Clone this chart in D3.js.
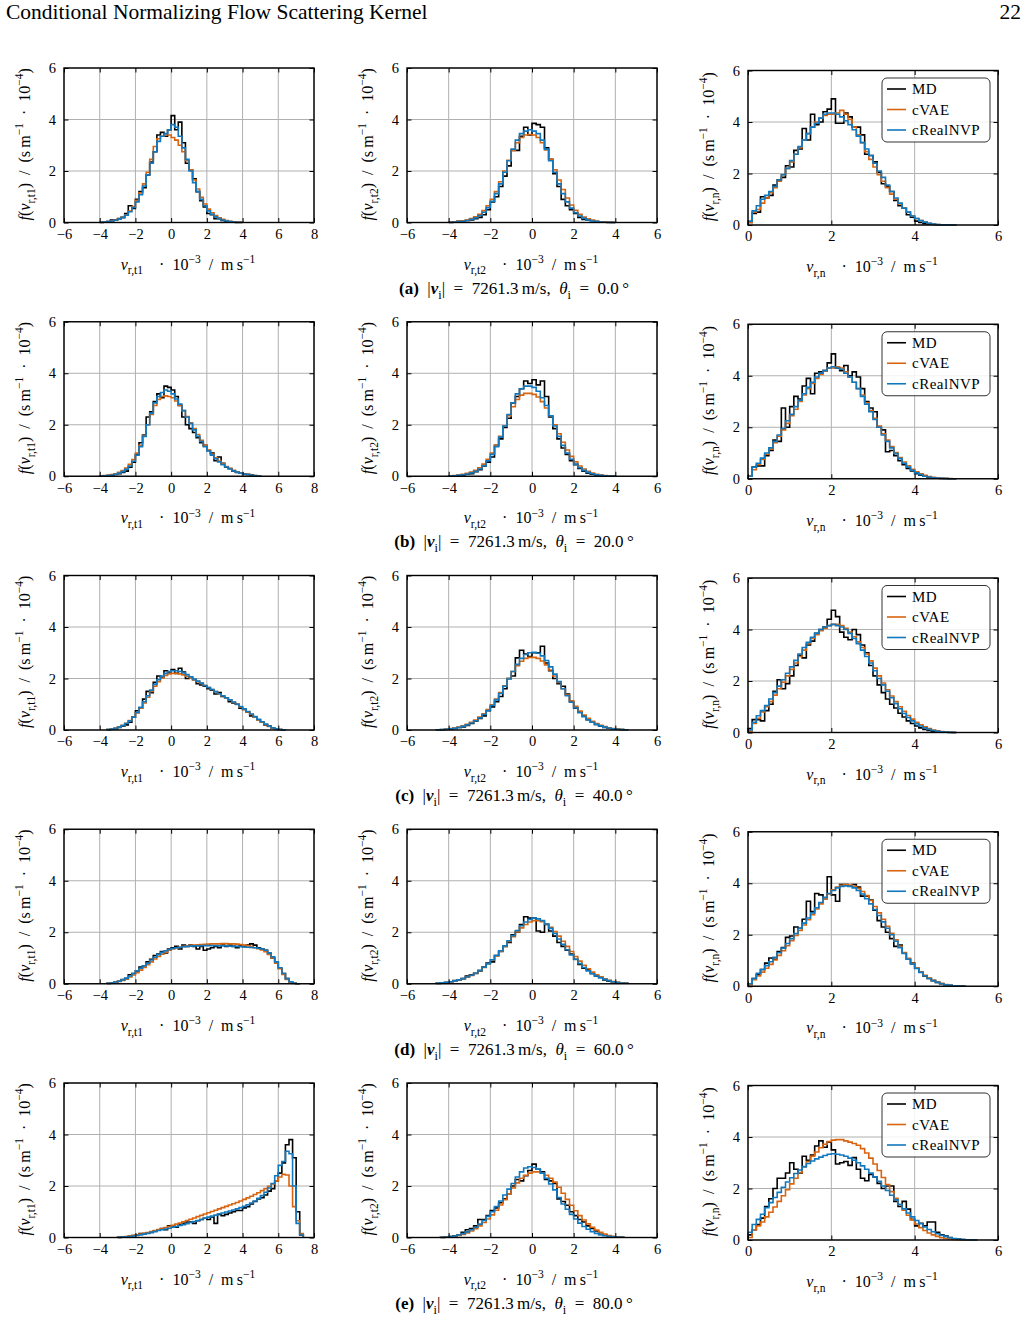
<!DOCTYPE html>
<html>
<head>
<meta charset="utf-8">
<script src="https://cdn.jsdelivr.net/npm/d3@7"></script>
<style>
  body { margin: 0; background: #fff; }
  svg { display: block; font-family: "Liberation Serif", "DejaVu Serif", serif; }
</style>
</head>
<body>
<svg id="fig" width="1027" height="1332"></svg>
<script>
// histogram bin widths (in 10^3 m/s)
const tBin = 0.2
const nBin = 0.1

// ---- (a) theta = 0
const a_t1_start = -4.0
const a_t1_md = [0,0.02,0.04,0.1,0.1,0.15,0.2,0.35,0.65,0.55, 0.9,1.2,1.35,1.85,2.35,2.75,3.4,3.5,3.35,3.6, 4.15,3.6,3.9,3.1,2.3,2.05,1.7,1.2,0.85,0.6, 0.35,0.3,0.15,0.15,0.08,0.05,0.03,0.02,0,0]
const a_t1_cvae = [0.01,0.02,0.04,0.06,0.09,0.13,0.2,0.3,0.44,0.62, 0.86,1.15,1.5,1.95,2.45,2.95,3.25,3.35,3.4,3.4, 3.3,3.2,3.0,2.75,2.4,2.05,1.65,1.3,0.98,0.72, 0.52,0.38,0.27,0.18,0.12,0.08,0.05,0.03,0.02,0.01]
const a_t1_nvp = [0.01,0.02,0.04,0.06,0.09,0.13,0.19,0.28,0.42,0.58, 0.8,1.08,1.42,1.85,2.3,2.75,3.15,3.35,3.45,3.6, 3.8,3.7,3.35,2.9,2.45,2.0,1.55,1.2,0.9,0.65, 0.45,0.32,0.22,0.15,0.1,0.06,0.04,0.02,0.01,0.01]

const a_t2_start = -4.0
const a_t2_md = [0,0.02,0.05,0.06,0.08,0.1,0.15,0.2,0.3,0.5, 0.8,1.0,1.4,1.8,2.2,2.8,2.8,3.35,3.7,3.4, 3.85,3.8,3.7,2.9,2.45,1.9,1.4,0.9,0.65,0.5, 0.35,0.2,0.12,0.1,0.08,0.04,0.02,0.01,0,0]
const a_t2_cvae = [0.02,0.03,0.05,0.07,0.1,0.15,0.22,0.32,0.46,0.65, 0.9,1.2,1.58,2.0,2.42,2.8,3.1,3.3,3.4,3.42, 3.4,3.3,3.1,2.82,2.45,2.05,1.65,1.28,0.95,0.68, 0.47,0.32,0.21,0.14,0.09,0.05,0.03,0.02,0.01,0.01]
const a_t2_nvp = [0.01,0.02,0.03,0.05,0.08,0.12,0.18,0.27,0.4,0.58, 0.82,1.12,1.5,1.95,2.4,2.85,3.2,3.45,3.55,3.6, 3.55,3.45,3.2,2.85,2.4,1.95,1.5,1.12,0.8,0.56, 0.38,0.25,0.16,0.1,0.06,0.04,0.02,0.01,0.01,0]

const a_n_md = [0.1,0.45,0.5,1.1,1.05,1.15,1.55,1.75,1.85,2.3, 2.25,2.9,2.95,3.75,3.3,4.3,3.9,4.0,4.4,4.5, 4.9,3.95,3.95,4.35,4.2,3.8,3.8,3.5,2.75,2.7, 2.45,2.05,1.6,1.5,1.3,0.95,0.75,0.65,0.4,0.3, 0.15,0.1,0.05,0.04,0.02,0.01,0,0,0,0]
const a_n_cvae = [0.1,0.5,0.6,0.85,1.05,1.25,1.45,1.7,1.95,2.2, 2.45,2.75,3.0,3.3,3.55,3.8,4.0,4.15,4.25,4.3, 4.3,4.35,4.45,4.3,4.1,3.8,3.5,3.2,2.85,2.55, 2.25,1.95,1.7,1.45,1.2,1.0,0.82,0.65,0.5,0.35, 0.25,0.17,0.11,0.07,0.04,0.02,0.01,0.01,0,0]
const a_n_nvp = [0.15,0.55,0.75,1.0,1.15,1.3,1.5,1.75,1.95,2.2, 2.5,2.75,3.05,3.3,3.55,3.8,3.95,4.15,4.3,4.35, 4.35,4.3,4.2,4.05,3.9,3.7,3.45,3.2,2.95,2.7, 2.4,2.1,1.85,1.55,1.3,1.05,0.85,0.65,0.5,0.35, 0.25,0.17,0.11,0.07,0.04,0.02,0.01,0.01,0,0]

// ---- (b) theta = 20
const b_t1_start = -4.0
const b_t1_md = [0,0.01,0.02,0.04,0.07,0.1,0.15,0.2,0.35,0.55, 0.85,1.3,1.6,2.3,2.5,2.9,3.2,3.05,3.5,3.45, 3.35,3.1,2.75,2.3,2.0,1.85,1.7,1.5,1.3,1.2, 1.0,0.9,0.6,0.75,0.5,0.35,0.3,0.2,0.15,0.12, 0.1,0.08,0.06,0.03,0.01]
const b_t1_cvae = [0.02,0.03,0.05,0.07,0.1,0.15,0.22,0.32,0.46,0.65, 0.9,1.2,1.58,2.0,2.4,2.75,2.98,3.1,3.12,3.1, 3.05,2.92,2.75,2.55,2.32,2.08,1.85,1.62,1.4,1.2, 1.02,0.86,0.72,0.59,0.48,0.38,0.3,0.23,0.17,0.12, 0.09,0.06,0.04,0.02,0.01]
const b_t1_nvp = [0.01,0.02,0.03,0.05,0.08,0.12,0.18,0.27,0.4,0.58, 0.82,1.15,1.55,2.0,2.45,2.85,3.1,3.25,3.35,3.3, 3.2,3.0,2.8,2.55,2.3,2.05,1.8,1.55,1.35,1.15, 0.98,0.82,0.68,0.56,0.45,0.36,0.28,0.21,0.16,0.12, 0.08,0.06,0.04,0.02,0.01]

const b_t2_start = -4.0
const b_t2_md = [0,0.02,0.03,0.05,0.08,0.1,0.18,0.25,0.4,0.55, 0.75,1.2,1.45,1.9,2.25,2.85,3.1,3.4,3.7,3.6, 3.75,3.55,3.7,3.1,2.3,1.85,1.45,1.1,0.85,0.6, 0.45,0.3,0.2,0.12,0.08,0.05,0.03,0.01,0.01,0]
const b_t2_cvae = [0.02,0.03,0.05,0.08,0.11,0.16,0.23,0.33,0.47,0.66, 0.9,1.2,1.55,1.95,2.35,2.7,2.98,3.15,3.22,3.22, 3.18,3.08,2.9,2.65,2.35,2.0,1.65,1.32,1.02,0.77, 0.56,0.4,0.28,0.19,0.12,0.08,0.05,0.03,0.02,0.01]
const b_t2_nvp = [0.01,0.02,0.04,0.06,0.09,0.13,0.19,0.28,0.41,0.6, 0.85,1.15,1.52,1.95,2.4,2.85,3.2,3.4,3.5,3.5, 3.45,3.3,3.05,2.75,2.35,1.95,1.55,1.2,0.9,0.66, 0.47,0.33,0.23,0.15,0.1,0.06,0.04,0.02,0.01,0.01]

const b_n_md = [0.1,0.45,0.5,0.5,0.9,1.1,1.5,1.45,2.75,2.0, 2.8,3.2,3.1,3.6,3.9,3.3,4.1,4.15,4.2,4.5, 4.85,4.3,4.2,4.4,4.0,4.15,3.95,3.5,3.0,2.75, 2.6,2.0,1.9,1.05,1.1,0.9,0.7,0.55,0.4,0.3, 0.2,0.14,0.1,0.06,0.04,0.02,0.01,0.01,0,0]
const b_n_cvae = [0.1,0.35,0.55,0.75,0.95,1.15,1.4,1.65,1.9,2.15, 2.45,2.7,3.0,3.25,3.5,3.7,3.9,4.05,4.2,4.3, 4.3,4.35,4.3,4.15,3.95,3.75,3.5,3.25,2.95,2.65, 2.35,2.05,1.75,1.5,1.25,1.02,0.82,0.65,0.5,0.37, 0.27,0.19,0.13,0.09,0.06,0.04,0.02,0.01,0.01,0]
const b_n_nvp = [0.1,0.45,0.6,0.8,1.0,1.2,1.45,1.7,1.95,2.25, 2.5,2.8,3.05,3.3,3.55,3.75,3.95,4.1,4.2,4.3, 4.35,4.3,4.25,4.1,3.95,3.75,3.5,3.2,2.9,2.6, 2.3,2.0,1.7,1.45,1.2,0.98,0.78,0.6,0.45,0.33, 0.23,0.16,0.1,0.07,0.04,0.03,0.02,0.01,0,0]

// ---- (c) theta = 40
const c_t1_start = -3.6
const c_t1_md = [0.01,0.03,0.05,0.1,0.15,0.2,0.3,0.5,0.75,0.85, 1.2,1.5,1.45,1.85,2.1,2.05,2.3,2.25,2.35,2.2, 2.4,2.25,2.0,2.05,1.95,1.8,1.75,1.7,1.6,1.55, 1.4,1.45,1.3,1.25,1.1,1.05,1.0,0.85,0.8,0.7, 0.55,0.5,0.4,0.3,0.2,0.15,0.08,0.04,0.02,0]
const c_t1_cvae = [0.03,0.05,0.08,0.12,0.18,0.26,0.37,0.5,0.66,0.85, 1.05,1.27,1.5,1.7,1.88,2.02,2.12,2.18,2.2,2.2, 2.18,2.14,2.09,2.03,1.96,1.89,1.81,1.73,1.65,1.57, 1.49,1.41,1.33,1.25,1.17,1.08,0.99,0.9,0.8,0.7, 0.6,0.5,0.4,0.3,0.21,0.14,0.08,0.04,0.02,0.01]
const c_t1_nvp = [0.02,0.04,0.07,0.11,0.17,0.25,0.36,0.5,0.68,0.88, 1.1,1.33,1.55,1.77,1.95,2.1,2.2,2.27,2.3,2.3, 2.27,2.22,2.15,2.07,1.98,1.9,1.82,1.73,1.65,1.57, 1.49,1.41,1.33,1.25,1.17,1.09,1.0,0.91,0.82,0.72, 0.62,0.52,0.42,0.32,0.23,0.15,0.09,0.05,0.02,0.01]

const c_t2_start = -4.6
const c_t2_md = [0,0.01,0.02,0.04,0.06,0.1,0.12,0.18,0.25,0.35, 0.45,0.55,0.75,0.9,1.1,1.3,1.6,2.0,2.1,2.8, 3.1,2.95,2.85,3.0,3.0,3.25,2.6,2.3,2.0,1.8, 1.7,1.4,1.1,0.85,0.7,0.55,0.4,0.3,0.22,0.15, 0.1,0.07,0.05,0.03,0.02,0.01]
const c_t2_cvae = [0.01,0.02,0.04,0.06,0.08,0.11,0.16,0.22,0.3,0.39, 0.5,0.63,0.79,0.98,1.2,1.45,1.72,2.0,2.27,2.5, 2.67,2.78,2.82,2.82,2.78,2.68,2.53,2.33,2.1,1.85, 1.6,1.36,1.13,0.92,0.74,0.58,0.45,0.34,0.25,0.18, 0.13,0.09,0.06,0.04,0.02,0.01]
const c_t2_nvp = [0.01,0.02,0.03,0.05,0.07,0.1,0.14,0.2,0.27,0.36, 0.47,0.6,0.76,0.95,1.17,1.42,1.7,1.98,2.27,2.55, 2.78,2.93,3.0,3.02,2.98,2.88,2.7,2.45,2.17,1.88, 1.6,1.33,1.08,0.86,0.67,0.52,0.4,0.3,0.22,0.16, 0.11,0.08,0.05,0.03,0.02,0.01]

const c_n_md = [0.15,0.5,0.5,0.45,0.85,1.1,1.6,2.05,1.7,1.9, 2.2,2.6,3.0,2.9,3.4,3.55,3.85,4.0,4.1,4.4, 4.75,4.5,3.9,3.7,3.6,4.0,3.8,3.4,3.1,2.6, 2.2,1.85,1.55,1.3,1.1,0.95,0.75,0.6,0.45,0.35, 0.25,0.18,0.12,0.08,0.05,0.03,0.02,0.01,0,0]
const c_n_cvae = [0.05,0.35,0.55,0.8,1.0,1.2,1.45,1.7,1.95,2.2, 2.45,2.7,2.95,3.2,3.45,3.65,3.8,3.95,4.05,4.15, 4.2,4.2,4.15,4.05,3.9,3.72,3.52,3.3,3.05,2.78, 2.5,2.2,1.92,1.66,1.42,1.2,1.0,0.82,0.66,0.52, 0.4,0.3,0.22,0.15,0.1,0.07,0.04,0.02,0.01,0]
const c_n_nvp = [0.1,0.4,0.65,0.85,1.05,1.3,1.55,1.8,2.05,2.3, 2.55,2.8,3.05,3.3,3.5,3.7,3.85,4.0,4.1,4.15, 4.2,4.15,4.1,4.0,3.85,3.65,3.45,3.2,2.95,2.7, 2.4,2.1,1.85,1.6,1.35,1.12,0.92,0.74,0.58,0.45, 0.34,0.25,0.18,0.12,0.08,0.05,0.03,0.02,0.01,0]

// ---- (d) theta = 60
const d_t1_start = -3.6
const d_t1_md = [0.01,0.03,0.06,0.1,0.16,0.2,0.35,0.4,0.5,0.65, 0.7,0.85,0.95,1.1,1.15,1.25,1.2,1.35,1.4,1.45, 1.35,1.5,1.45,1.5,1.45,1.35,1.45,1.3,1.35,1.4, 1.45,1.4,1.5,1.45,1.5,1.45,1.4,1.5,1.45,1.5, 1.55,1.5,1.4,1.35,1.3,1.15,1.0,0.85,0.6,0.4, 0.2,0.08,0.02,0]
const d_t1_cvae = [0.02,0.04,0.06,0.09,0.13,0.19,0.26,0.34,0.43,0.53, 0.63,0.74,0.85,0.96,1.06,1.15,1.23,1.3,1.35,1.39, 1.42,1.45,1.47,1.49,1.5,1.51,1.52,1.53,1.54,1.55, 1.55,1.55,1.56,1.56,1.55,1.55,1.54,1.52,1.5,1.47, 1.44,1.4,1.36,1.31,1.24,1.14,1.0,0.8,0.58,0.36, 0.17,0.06,0.01,0]
const d_t1_nvp = [0.02,0.04,0.07,0.1,0.15,0.22,0.3,0.4,0.5,0.6, 0.7,0.8,0.92,1.03,1.13,1.22,1.28,1.33,1.37,1.4, 1.42,1.44,1.45,1.46,1.47,1.47,1.48,1.48,1.48,1.48, 1.48,1.47,1.47,1.47,1.46,1.46,1.45,1.44,1.43,1.42, 1.41,1.4,1.38,1.35,1.3,1.2,1.05,0.85,0.62,0.4, 0.2,0.08,0.02,0]

const d_t2_start = -4.6
const d_t2_md = [0.01,0.03,0.05,0.08,0.12,0.15,0.2,0.3,0.35,0.4, 0.5,0.65,0.8,0.85,1.1,1.25,1.45,1.6,1.9,2.0, 2.3,2.6,2.55,2.55,2.05,2.0,2.3,2.05,1.85,1.6, 1.45,1.3,1.15,0.95,0.75,0.6,0.55,0.4,0.3,0.25, 0.15,0.1,0.08,0.05,0.03,0.02]
const d_t2_cvae = [0.02,0.03,0.05,0.07,0.1,0.14,0.19,0.25,0.32,0.41, 0.51,0.63,0.77,0.92,1.08,1.26,1.45,1.64,1.83,2.01, 2.17,2.3,2.4,2.45,2.45,2.41,2.32,2.19,2.03,1.85, 1.65,1.45,1.25,1.06,0.88,0.72,0.58,0.45,0.35,0.26, 0.19,0.13,0.09,0.06,0.04,0.02]
const d_t2_nvp = [0.03,0.04,0.06,0.08,0.11,0.15,0.2,0.26,0.33,0.42, 0.52,0.64,0.78,0.93,1.1,1.28,1.47,1.67,1.87,2.07, 2.25,2.4,2.5,2.55,2.52,2.45,2.32,2.15,1.95,1.74, 1.53,1.32,1.12,0.94,0.78,0.63,0.5,0.39,0.3,0.23, 0.17,0.12,0.08,0.05,0.03,0.02]

const d_n_md = [0.1,0.3,0.45,0.65,0.9,1.1,1.05,1.35,1.5,1.9, 1.95,2.3,2.25,2.6,3.3,2.9,3.6,3.55,3.4,4.25, 3.55,3.3,3.95,3.95,3.9,3.95,3.85,3.5,3.5,3.35, 2.95,2.55,2.3,2.1,1.85,1.55,1.6,1.3,1.05,0.9, 0.7,0.55,0.4,0.3,0.22,0.15,0.1,0.06,0.04,0.02, 0.01,0.01]
const d_n_cvae = [0.05,0.25,0.4,0.55,0.7,0.85,1.02,1.2,1.38,1.57, 1.77,1.97,2.17,2.38,2.58,2.78,3.0,3.2,3.4,3.58, 3.75,3.85,3.92,3.95,3.93,3.88,3.8,3.68,3.52,3.33, 3.1,2.85,2.6,2.33,2.06,1.8,1.55,1.31,1.09,0.89, 0.71,0.56,0.43,0.32,0.23,0.16,0.11,0.07,0.04,0.02, 0.01,0.01]
const d_n_nvp = [0.1,0.3,0.5,0.65,0.8,0.95,1.12,1.3,1.48,1.66, 1.85,2.05,2.25,2.45,2.65,2.85,3.05,3.25,3.45,3.6, 3.72,3.82,3.88,3.9,3.88,3.82,3.72,3.58,3.4,3.2, 2.98,2.75,2.5,2.25,2.0,1.75,1.5,1.27,1.05,0.86, 0.69,0.54,0.41,0.3,0.22,0.15,0.1,0.06,0.04,0.02, 0.01,0.01]

// ---- (e) theta = 80
const e_t1_start = -3.0
const e_t1_md = [0,0.01,0.02,0.05,0.08,0.1,0.15,0.15,0.18,0.2, 0.25,0.3,0.35,0.3,0.45,0.45,0.4,0.5,0.55,0.6, 0.6,0.55,0.65,0.7,0.75,0.7,0.8,0.55,0.9,0.85, 0.9,0.95,1.0,1.05,1.05,1.15,1.2,1.3,1.4,1.5, 1.55,1.65,1.8,1.9,2.2,2.5,2.9,3.6,3.8,3.1, 1.0,0.1]
const e_t1_cvae = [0.02,0.03,0.04,0.06,0.08,0.1,0.13,0.16,0.19,0.23, 0.27,0.31,0.35,0.39,0.43,0.47,0.52,0.56,0.61,0.66, 0.71,0.76,0.81,0.86,0.91,0.96,1.01,1.06,1.11,1.16, 1.21,1.26,1.31,1.36,1.42,1.48,1.54,1.6,1.67,1.74, 1.82,1.9,1.99,2.08,2.2,2.35,2.45,2.43,2.0,1.2, 0.65,0.15]
const e_t1_nvp = [0.01,0.02,0.03,0.04,0.06,0.08,0.1,0.13,0.16,0.2, 0.23,0.27,0.3,0.33,0.36,0.4,0.43,0.47,0.5,0.54, 0.58,0.62,0.66,0.7,0.75,0.79,0.83,0.87,0.91,0.95, 0.99,1.03,1.07,1.11,1.16,1.21,1.27,1.34,1.42,1.52, 1.63,1.76,1.92,2.1,2.4,2.8,2.95,3.35,3.25,2.0, 0.55,0.1]

const e_t2_start = -4.4
const e_t2_md = [0,0.02,0.04,0.07,0.1,0.2,0.3,0.35,0.45,0.7, 0.7,0.85,1.05,1.15,1.35,1.5,1.7,2.0,2.25,2.2, 2.4,2.6,2.85,2.65,2.55,2.25,2.2,2.1,1.5,1.4, 1.25,1.0,0.85,0.7,0.6,0.45,0.35,0.25,0.12,0.1, 0.05,0.03,0.02,0.01]
const e_t2_cvae = [0.01,0.02,0.03,0.05,0.08,0.12,0.18,0.25,0.34,0.45, 0.58,0.72,0.88,1.06,1.26,1.47,1.7,1.92,2.12,2.3, 2.42,2.5,2.55,2.55,2.5,2.42,2.3,2.15,1.95,1.72, 1.48,1.25,1.04,0.85,0.68,0.53,0.4,0.29,0.2,0.13, 0.08,0.05,0.03,0.01]
const e_t2_nvp = [0.01,0.02,0.04,0.06,0.1,0.15,0.22,0.3,0.4,0.52, 0.66,0.82,1.0,1.2,1.42,1.65,1.88,2.1,2.35,2.55, 2.7,2.75,2.72,2.65,2.5,2.3,2.08,1.85,1.55,1.3, 1.1,0.9,0.72,0.56,0.43,0.32,0.23,0.16,0.11,0.07, 0.05,0.03,0.02,0.01]

const e_n_md = [0.2,0.4,0.6,0.85,1.3,1.6,2.0,2.4,2.4,2.6, 3.0,2.75,2.6,3.25,3.1,3.3,3.65,3.85,3.6,3.8, 3.5,2.95,3.0,3.05,2.9,3.2,2.75,2.4,2.3,2.55, 2.45,2.2,2.0,2.1,2.1,1.5,1.3,1.5,1.2,0.8, 0.55,0.65,0.55,0.7,0.7,0.3,0.2,0.15,0.1,0.05, 0.04,0.02,0.01,0.01,0]
const e_n_cvae = [0.1,0.4,0.55,0.7,0.9,1.08,1.28,1.5,1.72,1.95, 2.18,2.4,2.62,2.84,3.05,3.25,3.42,3.58,3.72,3.82, 3.88,3.9,3.9,3.85,3.8,3.75,3.68,3.55,3.38,3.18, 2.95,2.7,2.43,2.15,1.88,1.62,1.38,1.16,0.96,0.78, 0.62,0.48,0.37,0.27,0.2,0.14,0.09,0.06,0.04,0.02, 0.01,0.01,0,0,0]
const e_n_nvp = [0.3,0.6,0.8,1.0,1.25,1.45,1.65,1.85,2.05,2.25, 2.42,2.58,2.72,2.85,2.97,3.07,3.15,3.22,3.28,3.33, 3.35,3.33,3.3,3.25,3.18,3.1,3.0,2.88,2.75,2.6, 2.45,2.28,2.1,1.92,1.74,1.56,1.38,1.21,1.05,0.9, 0.76,0.63,0.51,0.41,0.32,0.24,0.18,0.13,0.09,0.06, 0.04,0.02,0.01,0.01,0]

const rowLetters = ['a', 'b', 'c', 'd', 'e']
const thetas = ['0.0', '20.0', '40.0', '60.0', '80.0']
const seriesNames = ['MD', 'cVAE', 'cRealNVP']
const seriesColors = ['#000000', '#d8640f', '#1278bd']
const xTicksT1 = [-6, -4, -2, 0, 2, 4, 6, 8]
const xTicksT2 = [-6, -4, -2, 0, 2, 4, 6]
const xTicksN = [0, 2, 4, 6]
const yTicks = [0, 2, 4, 6]

const allData = {
  a_t1: [a_t1_start, a_t1_md, a_t1_cvae, a_t1_nvp], a_t2: [a_t2_start, a_t2_md, a_t2_cvae, a_t2_nvp], a_n: [0, a_n_md, a_n_cvae, a_n_nvp],
  b_t1: [b_t1_start, b_t1_md, b_t1_cvae, b_t1_nvp], b_t2: [b_t2_start, b_t2_md, b_t2_cvae, b_t2_nvp], b_n: [0, b_n_md, b_n_cvae, b_n_nvp],
  c_t1: [c_t1_start, c_t1_md, c_t1_cvae, c_t1_nvp], c_t2: [c_t2_start, c_t2_md, c_t2_cvae, c_t2_nvp], c_n: [0, c_n_md, c_n_cvae, c_n_nvp],
  d_t1: [d_t1_start, d_t1_md, d_t1_cvae, d_t1_nvp], d_t2: [d_t2_start, d_t2_md, d_t2_cvae, d_t2_nvp], d_n: [0, d_n_md, d_n_cvae, d_n_nvp],
  e_t1: [e_t1_start, e_t1_md, e_t1_cvae, e_t1_nvp], e_t2: [e_t2_start, e_t2_md, e_t2_cvae, e_t2_nvp], e_n: [0, e_n_md, e_n_cvae, e_n_nvp],
}

const cols = [
  {key: 't1', left: 64, width: 250, dy: 0, domain: [-6, 8], ticks: xTicksT1, bin: tBin, sub: 'r,t1'},
  {key: 't2', left: 407, width: 250, dy: 0, domain: [-6, 6], ticks: xTicksT2, bin: tBin, sub: 'r,t2'},
  {key: 'n', left: 748, width: 250, dy: 2.5, domain: [0, 6], ticks: xTicksN, bin: nBin, sub: 'r,n'},
]
const rowTop0 = 68
const rowStep = 253.75
const plotH = 154.5

const svg = d3.select('#fig')

// write rich text: segments of [text, style], style: n, i, b, bi, sub, sup
function richText(sel, segs, size) {
  let shift = 0
  segs.forEach(([t, s]) => {
    const ts = sel.append('tspan').text(t)
    let target = 0
    if (s === 'sub') target = size * 0.3
    if (s === 'sup') target = -size * 0.42
    ts.attr('dy', target - shift)
    shift = target
    if (s === 'sub' || s === 'sup') ts.attr('font-size', size * 0.72)
    if (s === 'i' || s === 'bi') ts.attr('font-style', 'italic')
    if (s === 'b' || s === 'bi') ts.attr('font-weight', 'bold')
  })
}

// header
svg.append('text').attr('x', 6).attr('y', 19).attr('font-size', 21.5)
  .text('Conditional Normalizing Flow Scattering Kernel')
svg.append('text').attr('x', 1021).attr('y', 19).attr('font-size', 21.5).attr('text-anchor', 'end').text('22')

function histPoints(start, bin, vals) {
  const pts = [[start, 0]]
  vals.forEach((v, i) => {
    pts.push([start + i * bin, v])
    pts.push([start + (i + 1) * bin, v])
  })
  pts.push([start + vals.length * bin, 0])
  return pts
}

rowLetters.forEach((letter, r) => {
  const rowTop = rowTop0 + r * rowStep
  cols.forEach((c, ci) => {
    const top = rowTop + c.dy
    const x = d3.scaleLinear().domain(c.domain).range([c.left, c.left + c.width])
    const y = d3.scaleLinear().domain([0, 6]).range([top + plotH, top])
    const g = svg.append('g')

    // grid
    g.selectAll('.gx').data(c.ticks).join('line')
      .attr('x1', d => x(d)).attr('x2', d => x(d)).attr('y1', top).attr('y2', top + plotH)
      .attr('stroke', '#b0b0b0').attr('stroke-width', 1)
    g.selectAll('.gy').data(yTicks).join('line')
      .attr('x1', c.left).attr('x2', c.left + c.width).attr('y1', d => y(d)).attr('y2', d => y(d))
      .attr('stroke', '#b0b0b0').attr('stroke-width', 1)

    // histograms
    const [start, ...series] = allData[letter + '_' + c.key]
    const line = d3.line().x(d => x(d[0])).y(d => y(d[1]))
    series.forEach((vals, si) => {
      g.append('path')
        .attr('d', line(histPoints(start, c.bin, vals)))
        .attr('fill', 'none')
        .attr('stroke', seriesColors[si])
        .attr('stroke-width', 1.6)
        .attr('stroke-linejoin', 'miter')
    })

    // axes with inward ticks
    g.append('g').attr('transform', `translate(0,${top + plotH})`)
      .call(d3.axisBottom(x).tickValues(c.ticks).tickSize(-4.5).tickPadding(6).tickFormat(d3.format('d')))
    g.append('g').attr('transform', `translate(${c.left},0)`)
      .call(d3.axisLeft(y).tickValues(yTicks).tickSize(-4.5).tickPadding(8).tickFormat(d3.format('d')))
    g.append('g').attr('transform', `translate(0,${top})`)
      .call(d3.axisTop(x).tickValues(c.ticks).tickSize(-4.5).tickFormat(''))
    g.append('g').attr('transform', `translate(${c.left + c.width},0)`)
      .call(d3.axisRight(y).tickValues(yTicks).tickSize(-4.5).tickFormat(''))
    g.selectAll('.domain').remove()
    g.selectAll('.tick line').attr('stroke', '#000').attr('stroke-width', 1)
    g.selectAll('.tick text').attr('font-family', '"Liberation Serif", serif').attr('font-size', 14.5).attr('fill', '#000')

    g.append('rect')
      .attr('x', c.left).attr('y', top).attr('width', c.width).attr('height', plotH)
      .attr('fill', 'none').attr('stroke', '#000').attr('stroke-width', 1.4)

    // axis labels
    const xl = g.append('text')
      .attr('x', c.left + c.width / 2 - 1).attr('y', top + plotH + 47)
      .attr('text-anchor', 'middle').attr('font-size', 16)
    richText(xl, [['v', 'i'], [c.sub, 'sub'], ['\u2003·\u200210', 'n'], ['−3', 'sup'], ['\u2002/\u2002m\u2009s', 'n'], ['−1', 'sup']], 16)

    const yl = g.append('text')
      .attr('transform', `translate(${c.left - 34},${top + plotH / 2 - 1}) rotate(-90)`)
      .attr('text-anchor', 'middle').attr('font-size', 16)
    richText(yl, [['f', 'i'], ['(', 'n'], ['v', 'i'], [c.sub, 'sub'], [')\u2002/\u2002(s\u2009m', 'n'], ['−1', 'sup'], ['\u2002·\u200210', 'n'], ['−4', 'sup'], [')', 'n']], 16)

    // legend
    if (c.key === 'n') {
      const lx = c.left + 134, ly = top + 7.5
      const lg = g.append('g')
      lg.append('rect').attr('x', lx).attr('y', ly).attr('width', 108).attr('height', 64)
        .attr('rx', 5).attr('fill', 'rgba(255,255,255,0.85)').attr('stroke', '#333').attr('stroke-width', 1)
      seriesNames.forEach((name, si) => {
        const yy = ly + 11 + si * 20.5
        lg.append('line').attr('x1', lx + 5).attr('x2', lx + 24).attr('y1', yy).attr('y2', yy)
          .attr('stroke', seriesColors[si]).attr('stroke-width', 1.6)
        lg.append('text').attr('x', lx + 30).attr('y', yy + 5).attr('font-size', 15)
          .attr('letter-spacing', 0.5).text(name)
      })
    }
  })

  // sub-figure caption
  const cap = svg.append('text')
    .attr('x', 514).attr('y', rowTop + plotH + 71)
    .attr('text-anchor', 'middle').attr('font-size', 17)
  richText(cap, [['(' + letter + ')', 'b'], ['\u2002|', 'n'], ['v', 'bi'], ['i', 'sub'], ['|\u2002=\u20027261.3\u2009m/s,\u2002', 'n'], ['θ', 'i'], ['i', 'sub'], ['\u2002=\u2002' + thetas[r] + '\u2009°', 'n']], 17)
})
</script>
</body>
</html>
